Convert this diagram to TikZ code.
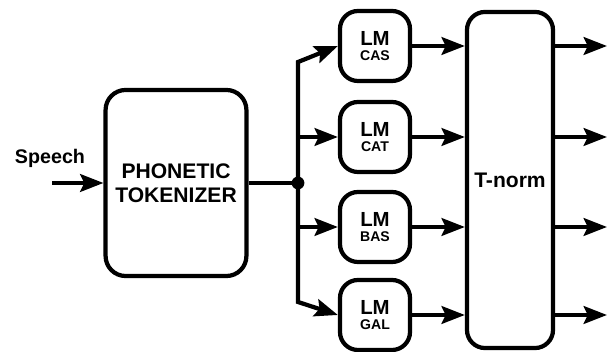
\documentclass[tikz,border=0pt]{standalone}
\usepackage{fontspec}
\setmainfont{Liberation Sans}
\usetikzlibrary{arrows.meta}
\tikzset{
    block/.style={draw, line width=3pt, rounded corners=0.5cm, inner sep=0pt, align=center, font=\bfseries},
    flow/.style={line width=3pt, -{Stealth[length=0.58cm, width=0.44cm, inset=0.1cm]}},
    wire/.style={line width=3pt}
}
\newcommand{\lmtext}[1]{{\fontsize{14.5}{15}\selectfont LM}\\[-1pt]{\fontsize{10}{11}\selectfont #1}}

\begin{document}
\begin{tikzpicture}[x=0.025cm, y=-0.025cm]
\useasboundingbox (0,0) rectangle (608,352);

\node[block, minimum width=3.52cm, minimum height=4.65cm, font=\bfseries\fontsize{15}{17}\selectfont] (tok) at (176,183) {PHONETIC\\TOKENIZER};
\node[font=\bfseries\fontsize{14}{16}\selectfont] (speech) at (50,158) {Speech};
\coordinate (in) at (52,183);
\draw[flow] (in) -- (tok.west);

\node[block, rounded corners=0.45cm, minimum width=2.15cm, minimum height=8.4cm, font=\bfseries\fontsize{15}{17}\selectfont] (tnorm) at (510,180) {T-norm};

\foreach \name/\lang/\y in {cas/CAS/46, cat/CAT/137, bas/BAS/227, gal/GAL/315}
{
    \node[block, rounded corners=0.45cm, minimum width=1.75cm, minimum height=1.75cm] (\name) at (375,\y) {\lmtext{\lang}};
    \draw[flow] (\name.east) -- (tnorm.west |- \name.east);
    \coordinate (out\name) at (607,\y);
    \draw[flow] (tnorm.east |- \name.east) -- (out\name);
}

\coordinate (split) at (298,183);
\draw[wire] (tok.east) -- (split);
\fill (split) circle[radius=0.16cm];
\draw[flow] (split) -- (298,62) -- (cas.west);
\draw[flow] (split) -- (298,302) -- (gal.west);
\draw[flow] (split |- cat.west) -- (cat.west);
\draw[flow] (split |- bas.west) -- (bas.west);
\end{tikzpicture}
\end{document}
